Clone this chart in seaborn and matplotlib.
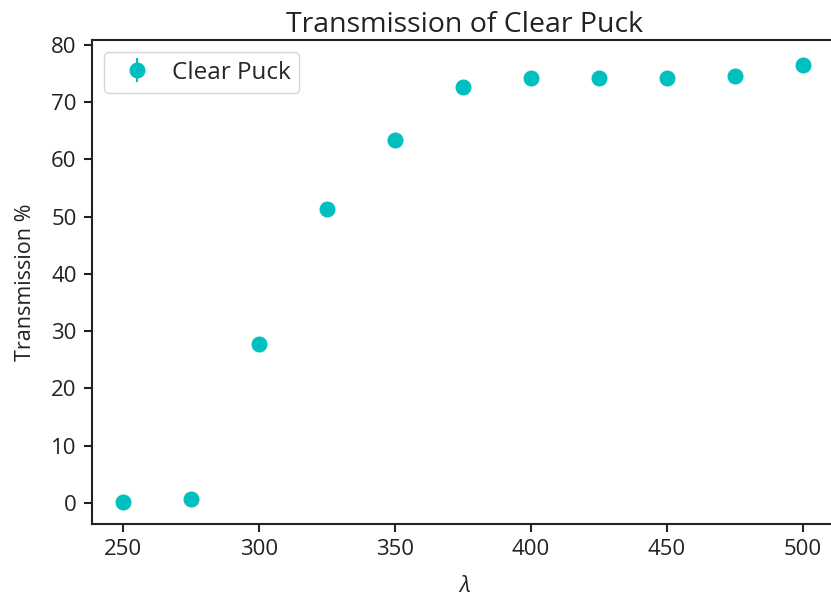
import matplotlib
matplotlib.use("Agg")
import matplotlib.pyplot as plt
import seaborn as sns
import numpy as np

wavelength = [250, 275, 300, 325, 350, 375, 400, 425, 450, 475, 500]
transmission = [0.2, 0.7, 27.8, 51.4, 63.4, 72.7, 74.2, 74.2, 74.2, 74.6, 76.5]
errors = [0.0] * len(wavelength)

sns.set_theme(style="ticks")
plt.rcParams['font.family'] = ['Open Sans', 'DejaVu Sans']
plt.rcParams['mathtext.fontset'] = 'custom'
plt.rcParams['mathtext.it'] = 'Open Sans:italic'
plt.rcParams['mathtext.rm'] = 'Open Sans'

fig = plt.figure(figsize=(8.31, 5.98), dpi=100)
ax = fig.add_axes([92/831, (598-524)/598, (837-92)/831, (524-40)/598])

ax.errorbar(wavelength, transmission, yerr=errors, fmt='o', color='#00bfbf',
            markersize=10.5, label='Clear Puck')

ax.set_xlim(238.6, 512.6)
ax.set_ylim(-3.67, 80.87)
ax.set_xticks([250, 300, 350, 400, 450, 500])
ax.set_yticks(range(0, 81, 10))
ax.tick_params(labelsize=16, width=1.5, length=6, colors='#222222', pad=5)
for s in ax.spines.values():
    s.set_linewidth(1.5)
    s.set_color('#222222')
    s.set_visible(True)

ax.set_title('Transmission of Clear Puck', fontsize=20.5, color='#222222', pad=6)
ax.set_xlabel(r'$\lambda$', fontsize=16, color='#222222', labelpad=11)
ax.set_ylabel('Transmission %', fontsize=15.5, color='#222222', labelpad=11)
leg = ax.legend(loc='upper left', fontsize=17.5, frameon=True, borderpad=0.35,
                handletextpad=0.45)
leg.get_frame().set_edgecolor('#cccccc')

fig.savefig('out.png', dpi=100)
